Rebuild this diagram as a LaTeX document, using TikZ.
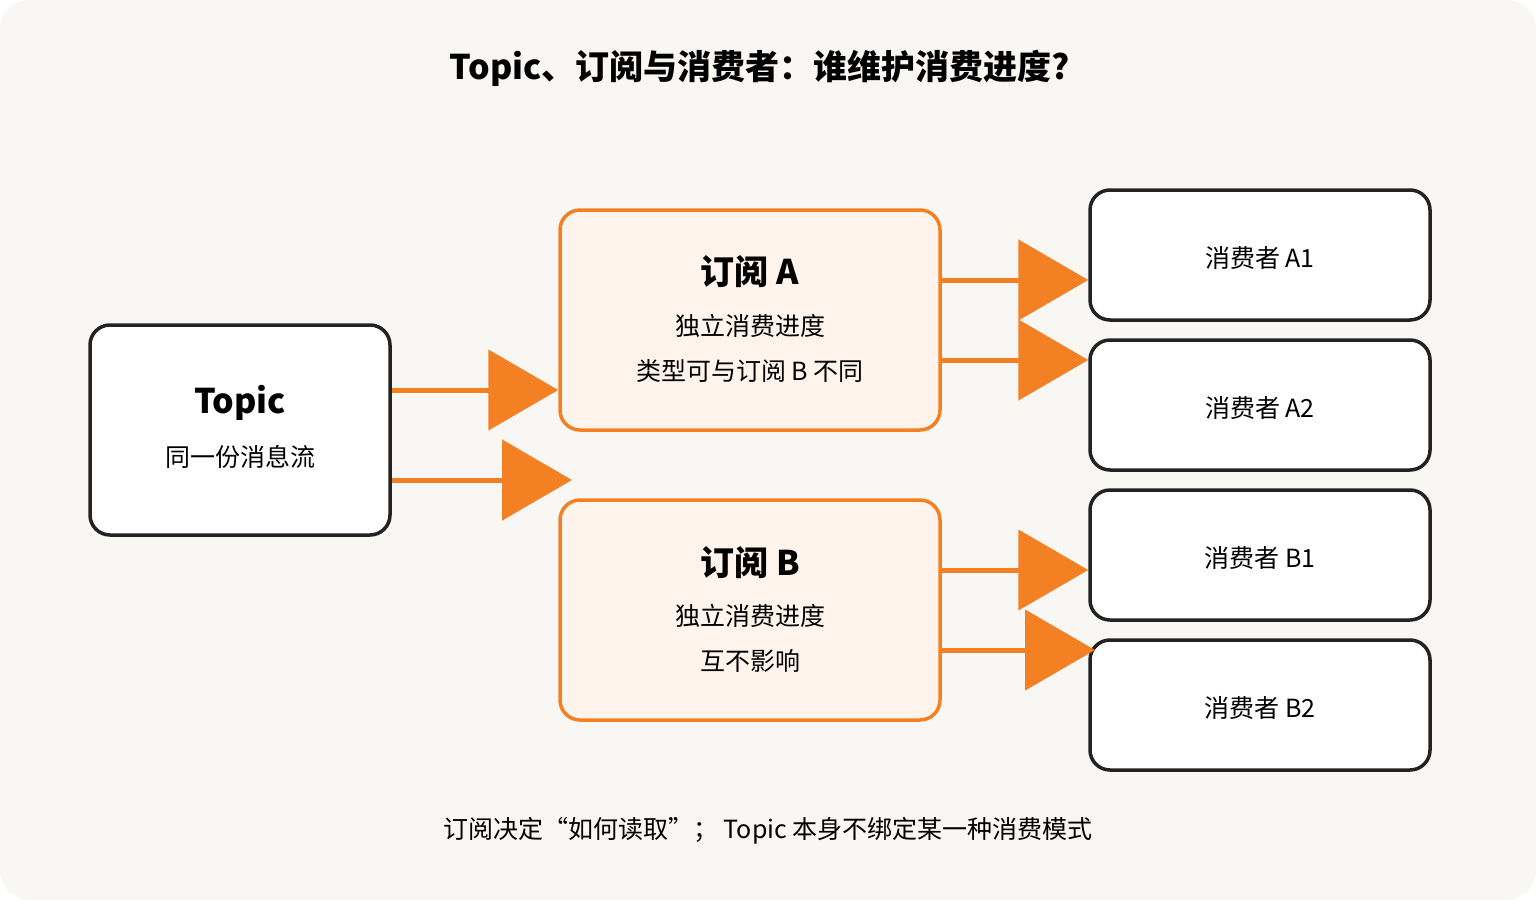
\documentclass[tikz,border=0pt]{standalone}
\usepackage{fontspec}
\setmainfont{Noto Sans CJK SC}
\usetikzlibrary{arrows.meta}
\definecolor{bgpaper}{HTML}{F9F7F3}
\definecolor{subor}{HTML}{F48024}
\definecolor{subfill}{HTML}{FFF4EC}
\definecolor{ink}{HTML}{222222}
\tikzset{
  box/.style={draw=ink, line width=3.5pt, rounded corners=20pt, fill=white, inner sep=0pt},
  subbox/.style={draw=subor, line width=3.5pt, rounded corners=20pt, fill=subfill, inner sep=0pt},
  feed/.style={draw=subor, line width=5pt, -{Triangle[length=70pt,width=80pt]}},
}
\begin{document}
\begin{tikzpicture}[x=1pt,y=1pt]
	\useasboundingbox (0,0) rectangle (1536,-900);
	\fill[bgpaper, rounded corners=30pt] (0,0) rectangle (1536,-900);
	% title
	\node (title) at (760,-68) {\fontsize{34}{40}\selectfont\bfseries Topic、订阅与消费者：谁维护消费进度?};
	% topic
	\node[box, minimum width=300pt, minimum height=210pt] (topic) at (240,-430) {};
	\node at (240,-403) {\fontsize{34}{40}\selectfont\bfseries Topic};
	\node at (240,-457) {\fontsize{25}{30}\selectfont 同一份消息流};
	% subscriptions
	\node[subbox, minimum width=380pt, minimum height=220pt] (subA) at (750,-320) {};
	\node at (750,-272) {\fontsize{34}{40}\selectfont\bfseries 订阅 A};
	\node at (750,-326) {\fontsize{25}{30}\selectfont 独立消费进度};
	\node at (750,-371) {\fontsize{25}{30}\selectfont 类型可与订阅 B 不同};
	\node[subbox, minimum width=380pt, minimum height=220pt] (subB) at (750,-610) {};
	\node at (750,-563) {\fontsize{34}{40}\selectfont\bfseries 订阅 B};
	\node at (750,-616) {\fontsize{25}{30}\selectfont 独立消费进度};
	\node at (750,-661) {\fontsize{25}{30}\selectfont 互不影响};
	% consumers
	\foreach \name\y\txt in {cA1/-258/消费者 A1, cA2/-408/消费者 A2, cB1/-558/消费者 B1, cB2/-708/消费者 B2}{
		\node[box, minimum width=340pt, minimum height=130pt] (\name) at (1260,\y+3) {};
		\node at (1260,\y) {\fontsize{25}{30}\selectfont \txt};
	}
	% feeds
	\coordinate (tipB) at (572,-480);
	\draw[feed] (topic.east |- 0,-390) -- (subA.west |- 0,-390);
	\draw[feed] (topic.east |- 0,-480) -- (tipB);
	\draw[feed] (subA.east |- 0,-280) -- (cA1.west |- 0,-280);
	\draw[feed] (subA.east |- 0,-360) -- (cA2.west |- 0,-360);
	\draw[feed] (subB.east |- 0,-570) -- (cB1.west |- 0,-570);
	\coordinate (tipB2) at (1095,-650);
	\draw[feed] (subB.east |- 0,-650) -- (tipB2);
	% footer
	\node (note) at (768,-831) {\fontsize{25}{30}\selectfont 订阅决定“如何读取”； Topic 本身不绑定某一种消费模式};
\end{tikzpicture}
\end{document}
